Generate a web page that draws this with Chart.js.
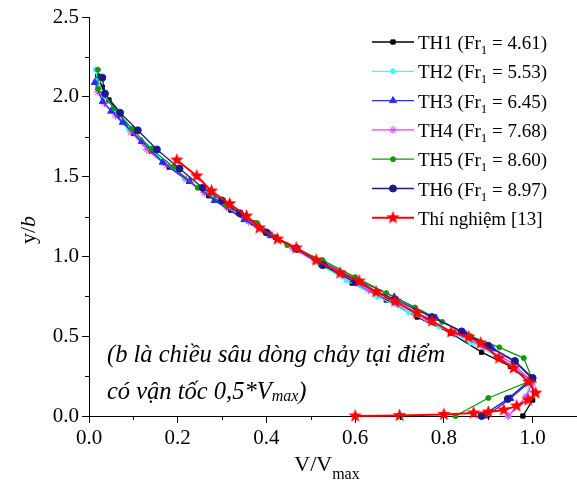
<!DOCTYPE html>
<html>
<head>
<meta charset="utf-8">
<script src="https://cdn.jsdelivr.net/npm/chart.js@4.4.0/dist/chart.umd.min.js"></script>
<style>
  html, body { margin: 0; padding: 0; background: #fff; }
  #wrap { width: 577px; height: 488px; }
</style>
</head>
<body>
<div id="wrap"><canvas id="chart" width="577" height="488"></canvas></div>
<script>
// axis ticks
const xTicks = [0, 0.2, 0.4, 0.6, 0.8, 1.0];
const yTicks = [0, 0.5, 1.0, 1.5, 2.0, 2.5];
const xMinor = [0.1, 0.3, 0.5, 0.7, 0.9];
const yMinor = [0.25, 0.75, 1.25, 1.75, 2.25];

// series labels
const caseNames = ["TH1", "TH2", "TH3", "TH4", "TH5", "TH6"];
const frValues = ["4.61", "5.53", "6.45", "7.68", "8.60", "8.97"];
const expName = "Thí nghiệm [13]";

// series values (V/Vmax, y/b)
const th1X = [0.02, 0.03, 0.045, 0.07, 0.10, 0.14, 0.18, 0.225, 0.27, 0.32, 0.37, 0.42, 0.47, 0.53, 0.593, 0.67, 0.74, 0.815, 0.885, 0.95, 1.0, 1.0, 0.978];
const th1Y = [2.13, 2.06, 1.98, 1.88, 1.77, 1.66, 1.56, 1.47, 1.38, 1.29, 1.21, 1.12, 1.04, 0.94, 0.833, 0.727, 0.62, 0.52, 0.40, 0.31, 0.22, 0.10, 0.0];

const th2X = [0.015, 0.02, 0.035, 0.06, 0.09, 0.13, 0.17, 0.215, 0.26, 0.31, 0.36, 0.41, 0.46, 0.52, 0.58, 0.65, 0.72, 0.79, 0.86, 0.93, 0.995, 0.985, 0.945];
const th2Y = [2.17, 2.10, 2.01, 1.91, 1.80, 1.69, 1.59, 1.49, 1.40, 1.31, 1.22, 1.13, 1.05, 0.95, 0.85, 0.75, 0.65, 0.56, 0.46, 0.36, 0.23, 0.12, 0.0];

const th3X = [0.013, 0.031, 0.05, 0.076, 0.119, 0.166, 0.227, 0.283, 0.35, 0.41, 0.47, 0.53, 0.60, 0.688, 0.782, 0.85, 0.91, 0.96, 1.0, 0.95, 0.895];
const th3Y = [2.09, 1.97, 1.91, 1.84, 1.72, 1.59, 1.47, 1.35, 1.23, 1.13, 1.05, 0.96, 0.86, 0.746, 0.614, 0.51, 0.42, 0.34, 0.23, 0.11, 0.0];

const th4X = [0.02, 0.035, 0.06, 0.095, 0.13, 0.175, 0.22, 0.26, 0.31, 0.36, 0.41, 0.46, 0.51, 0.57, 0.63, 0.695, 0.76, 0.825, 0.89, 0.955, 1.0, 0.985, 0.945];
const th4Y = [2.03, 1.96, 1.88, 1.78, 1.67, 1.57, 1.48, 1.40, 1.31, 1.22, 1.14, 1.05, 0.97, 0.88, 0.79, 0.70, 0.61, 0.52, 0.43, 0.33, 0.21, 0.12, 0.0];

const th5X = [0.02, 0.02, 0.056, 0.097, 0.14, 0.19, 0.245, 0.31, 0.378, 0.447, 0.526, 0.60, 0.67, 0.735, 0.796, 0.86, 0.925, 0.98, 1.0, 0.90, 0.826];
const th5Y = [2.17, 2.05, 1.93, 1.80, 1.675, 1.56, 1.43, 1.32, 1.21, 1.07, 0.977, 0.87, 0.77, 0.68, 0.59, 0.50, 0.43, 0.363, 0.225, 0.113, 0.0];

const th6X = [0.03, 0.036, 0.07, 0.11, 0.153, 0.204, 0.256, 0.30, 0.34, 0.40, 0.467, 0.526, 0.60, 0.69, 0.773, 0.84, 0.90, 0.96, 1.0, 0.944, 0.885];
const th6Y = [2.12, 2.02, 1.90, 1.79, 1.67, 1.55, 1.43, 1.35, 1.27, 1.15, 1.05, 0.946, 0.84, 0.73, 0.62, 0.53, 0.44, 0.345, 0.238, 0.107, 0.0];

const expX = [0.198, 0.243, 0.276, 0.317, 0.355, 0.384, 0.425, 0.467, 0.512, 0.566, 0.609, 0.647, 0.69, 0.739, 0.773, 0.816, 0.856, 0.883, 0.924, 0.957, 0.991, 1.007, 0.99, 0.964, 0.935, 0.90, 0.867, 0.80, 0.70, 0.60];
const expY = [1.604, 1.504, 1.41, 1.33, 1.253, 1.178, 1.109, 1.053, 0.977, 0.896, 0.846, 0.777, 0.72, 0.645, 0.595, 0.526, 0.495, 0.457, 0.363, 0.30, 0.213, 0.144, 0.10, 0.063, 0.038, 0.025, 0.019, 0.01, 0.003, 0.0];

const serif = "'Liberation Serif', 'Times New Roman', serif";

function toPoints(xs, ys) {
  return xs.map((x, i) => ({ x: x, y: ys[i] }));
}

// five point star marker for the experiment series
function makeStar(color) {
  const c = document.createElement("canvas");
  c.width = 15;
  c.height = 15;
  const g = c.getContext("2d");
  g.fillStyle = color;
  g.beginPath();
  for (let i = 0; i < 10; i++) {
    const r = i % 2 === 0 ? 7 : 3;
    const a = -Math.PI / 2 + (i * Math.PI) / 5;
    const px = 7.5 + r * Math.cos(a);
    const py = 7.5 + r * Math.sin(a);
    if (i === 0) g.moveTo(px, py);
    else g.lineTo(px, py);
  }
  g.closePath();
  g.fill();
  return c;
}

function series(xs, ys, color, style, radius, order, width) {
  return {
    data: toPoints(xs, ys),
    showLine: true,
    borderColor: color,
    backgroundColor: color,
    borderWidth: width || 1.3,
    pointStyle: style,
    pointRadius: radius,
    pointBorderWidth: 1,
    pointBorderColor: color,
    pointBackgroundColor: color,
    order: order,
    clip: false,
  };
}

const datasets = [
  series(th1X, th1Y, "#000000", "rect", 3, 6),
  series(th2X, th2Y, "#33ffff", "circle", 2.5, 5),
  series(th3X, th3Y, "#2a2aff", "triangle", 4, 3),
  series(th4X, th4Y, "#ff33ff", "star", 4, 4),
  series(th5X, th5Y, "#119911", "circle", 2.5, 2),
  series(th6X, th6Y, "#1a1a8c", "circle", 3.5, 1),
  series(expX, expY, "#ff0000", makeStar("#ff0000"), 6, 0, 2),
];

// draw a line of text made of runs with own font / vertical shift
function drawRuns(ctx, x, y, runs) {
  let cx = x;
  runs.forEach((r) => {
    ctx.font = r.font;
    ctx.fillText(r.t, cx, y + (r.dy || 0));
    cx += ctx.measureText(r.t).width;
  });
}

const extras = {
  id: "extras",
  afterDraw(chart) {
    const ctx = chart.ctx;
    const xs = chart.scales.x;
    const ys = chart.scales.y;
    ctx.save();

    // minor ticks
    ctx.strokeStyle = "#000";
    ctx.lineWidth = 1;
    ctx.beginPath();
    xMinor.forEach((v) => {
      const p = Math.round(xs.getPixelForValue(v)) + 0.5;
      ctx.moveTo(p, ys.bottom);
      ctx.lineTo(p, ys.bottom + 4);
    });
    yMinor.forEach((v) => {
      const p = Math.round(ys.getPixelForValue(v)) + 0.5;
      ctx.moveTo(xs.left - 4, p);
      ctx.lineTo(xs.left, p);
    });
    ctx.stroke();

    ctx.fillStyle = "#000";
    ctx.textBaseline = "alphabetic";

    // x axis title: V/Vmax
    ctx.font = "22px " + serif;
    const w1 = ctx.measureText("V/V").width;
    ctx.font = "16px " + serif;
    const w2 = ctx.measureText("max").width;
    const tx = 327 - (w1 + w2) / 2;
    drawRuns(ctx, tx, 471, [
      { t: "V/V", font: "22px " + serif },
      { t: "max", font: "16px " + serif, dy: 8 },
    ]);

    // y axis title: y/b
    ctx.save();
    ctx.translate(35, 230);
    ctx.rotate(-Math.PI / 2);
    ctx.font = "22px " + serif;
    const a = ctx.measureText("y/").width;
    ctx.font = "italic 22px " + serif;
    const b = ctx.measureText("b").width;
    drawRuns(ctx, -(a + b) / 2, 0, [
      { t: "y/", font: "22px " + serif },
      { t: "b", font: "italic 22px " + serif },
    ]);
    ctx.restore();

    // note inside the plot
    drawRuns(ctx, 107, 362, [
      { t: "(b là chiều sâu dòng chảy tại điểm", font: "italic 24.5px " + serif },
    ]);
    drawRuns(ctx, 107, 399, [
      { t: "có vận tốc 0,5*V", font: "italic 24.5px " + serif },
      { t: "max", font: "italic 16px " + serif, dy: 2 },
      { t: ")", font: "italic 24.5px " + serif },
    ]);

    // legend: line + marker + label
    chart.data.datasets.forEach((ds, i) => {
      const ly = 42 + i * 29.3;
      ctx.strokeStyle = ds.borderColor;
      ctx.lineWidth = ds.borderWidth;
      ctx.beginPath();
      ctx.moveTo(372, ly);
      ctx.lineTo(414, ly);
      ctx.stroke();
      ctx.fillStyle = ds.pointBackgroundColor;
      ctx.strokeStyle = ds.pointBorderColor;
      ctx.lineWidth = 1;
      Chart.helpers.drawPoint(ctx, { pointStyle: ds.pointStyle, radius: ds.pointRadius, borderWidth: 1, rotation: 0 }, 393, ly);
      ctx.fillStyle = "#000";
      const base = ly + 7;
      if (i < caseNames.length) {
        drawRuns(ctx, 418, base, [
          { t: caseNames[i] + " (Fr", font: "19px " + serif },
          { t: "1", font: "13px " + serif, dy: 5 },
          { t: " = " + frValues[i] + ")", font: "19px " + serif },
        ]);
      } else {
        drawRuns(ctx, 418, base, [{ t: expName, font: "19px " + serif }]);
      }
    });

    ctx.restore();
  },
};

new Chart(document.getElementById("chart"), {
  type: "scatter",
  data: { datasets: datasets },
  options: {
    responsive: false,
    animation: false,
    devicePixelRatio: 1,
    layout: { autoPadding: false, padding: { top: 17, right: 0, left: 0, bottom: 0 } },
    plugins: {
      legend: { display: false },
      tooltip: { enabled: false },
    },
    scales: {
      x: {
        type: "linear",
        min: 0,
        max: 1.1,
        afterBuildTicks: (s) => {
          s.ticks = xTicks.map((v) => ({ value: v }));
        },
        afterFit: (s) => {
          s.height = 72;
          s.paddingLeft = 0;
          s.paddingRight = 0;
        },
        grid: { drawOnChartArea: false, color: "#000", tickLength: 7 },
        border: { color: "#000", width: 1 },
        ticks: {
          color: "#000",
          padding: 3,
          font: { family: serif, size: 21 },
          callback: (v) => Number(v).toFixed(1),
        },
      },
      y: {
        type: "linear",
        min: 0,
        max: 2.5,
        afterBuildTicks: (s) => {
          s.ticks = yTicks.map((v) => ({ value: v }));
        },
        afterFit: (s) => {
          s.width = 89;
        },
        grid: { drawOnChartArea: false, color: "#000", tickLength: 7 },
        border: { color: "#000", width: 1 },
        ticks: {
          color: "#000",
          padding: 3,
          font: { family: serif, size: 21 },
          callback: (v) => Number(v).toFixed(1),
        },
      },
    },
  },
  plugins: [extras],
});
</script>
</body>
</html>
